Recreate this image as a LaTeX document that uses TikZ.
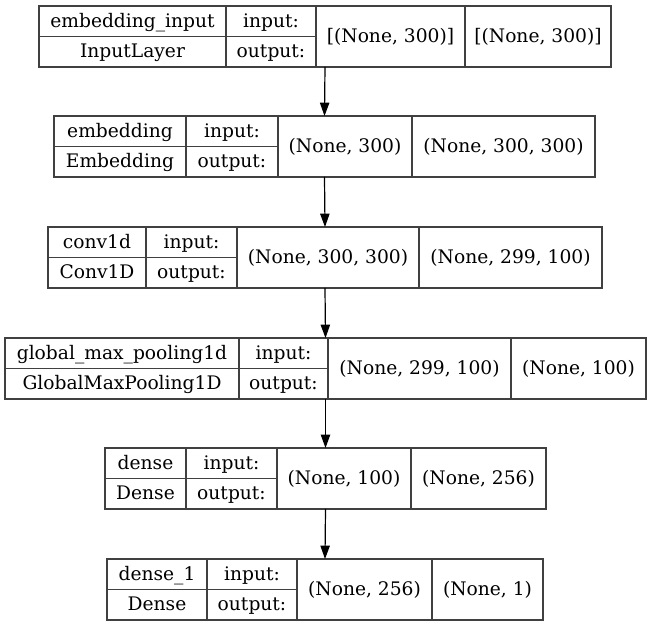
\documentclass[tikz,border=0pt]{standalone}
\usepackage{fontspec}
\setmainfont{DejaVu Serif}
\usetikzlibrary{arrows.meta}
\tikzset{
  lbox/.style={draw=black!75, line width=1pt, inner sep=0pt, outer sep=0pt, minimum height={61*0.75pt}, anchor=north west},
  cell/.style={draw=black!75, line width=1pt},
  txt/.style={inner sep=0pt, font=\fontsize{14pt}{16pt}\selectfont, text height=1.4ex, text depth=0.3ex},
  arr/.style={draw=black, line width=0.9pt, -{Triangle[length=10pt, width=7pt]}}
}
\def\parsepos#1,#2,#3,#4,#5\relax{\def\xa{#1}\def\xb{#2}\def\xc{#3}\def\xd{#4}\def\xe{#5}}
\newcommand{\layer}[7]{%
  \parsepos#3\relax
  \pgfmathsetmacro\lbot{#2+61}%
  \pgfmathsetmacro\lmid{#2+30.5}%
  \pgfmathsetmacro\tmid{#2+32.5}%
  \pgfmathsetmacro\rone{#2+17.5}%
  \pgfmathsetmacro\rtwo{#2+47.5}%
  \pgfmathsetmacro\ca{(\xa+\xb)/2}%
  \pgfmathsetmacro\cb{(\xb+\xc)/2}%
  \pgfmathsetmacro\cc{(\xc+\xd)/2}%
  \pgfmathsetmacro\cd{(\xd+\xe)/2}%
  \node[lbox, minimum width={(\xe-\xa)*0.75pt}] (#1) at (\xa,#2) {};
  \draw[cell] (\xb,#2) -- (\xb,\lbot) (\xc,#2) -- (\xc,\lbot) (\xd,#2) -- (\xd,\lbot) (\xa,\lmid) -- (\xc,\lmid);
  \node[txt] (#1-name) at (\ca,\rone) {#4};
  \node[txt] (#1-type) at (\ca,\rtwo) {#5};
  \node[txt] (#1-inl) at (\cb,\rone) {input:};
  \node[txt] (#1-outl) at (\cb,\rtwo) {output:};
  \node[txt] (#1-in) at (\cc,\tmid) {#6};
  \node[txt] (#1-out) at (\cd,\tmid) {#7};
}
\begin{document}
\begin{tikzpicture}[x=0.75pt, y=-0.75pt]
\path[use as bounding box, fill=white] (0,0) rectangle (651,627);
\layer{l1}{6}{39,226,316,465,611}{embedding\_input}{InputLayer}{[(None, 300)]}{[(None, 300)]}
\layer{l2}{116}{54,186,278,412,595}{embedding}{Embedding}{(None, 300)}{(None, 300, 300)}
\layer{l3}{227}{48,146,237,419,602}{conv1d}{Conv1D}{(None, 300, 300)}{(None, 299, 100)}
\layer{l4}{338}{5,239,328,511,646}{global\_max\_pooling1d}{GlobalMaxPooling1D}{(None, 299, 100)}{(None, 100)}
\layer{l5}{448}{105,186,277,411,546}{dense}{Dense}{(None, 100)}{(None, 256)}
\layer{l6}{559}{107,207,297,432,543}{dense\_1}{Dense}{(None, 256)}{(None, 1)}
\draw[arr] (l1.south) -- (l2.north);
\draw[arr] (l2.south) -- (l3.north);
\draw[arr] (l3.south) -- (l4.north);
\draw[arr] (l4.south) -- (l5.north);
\draw[arr] (l5.south) -- (l6.north);
\end{tikzpicture}
\end{document}
